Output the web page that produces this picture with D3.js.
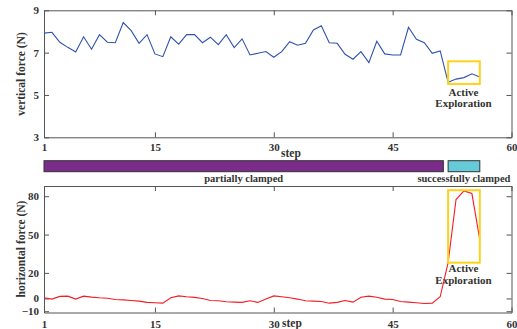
<!DOCTYPE html>
<html>
<head>
<meta charset="utf-8">
<script src="https://cdn.jsdelivr.net/npm/d3@7"></script>
<style>
  html, body { margin: 0; padding: 0; background: #fff; }
  svg { display: block; }
  text { font-family: "Liberation Serif", "Times New Roman", serif; font-weight: bold; fill: #333; }
</style>
</head>
<body>
<svg id="chart" width="517" height="329"></svg>
<script>
// ---- data ----
const steps = [1,2,3,4,5,6,7,8,9,10,11,12,13,14,15,16,17,18,19,20,21,22,23,24,25,26,27,28,
               29,30,31,32,33,34,35,36,37,38,39,40,41,42,43,44,45,46,47,48,49,50,51,52,53,54,55,56];
const verticalForce = [7.92,7.96,7.49,7.25,7.03,7.75,7.16,7.85,7.49,7.47,
                       8.42,8.04,7.44,7.85,6.94,6.81,7.75,7.40,7.85,7.85,
                       7.47,7.73,7.38,7.85,7.24,7.65,6.89,6.97,7.05,6.78,
                       7.05,7.52,7.35,7.44,8.07,8.27,7.47,7.44,6.92,6.69,
                       7.05,6.53,7.54,6.94,6.89,6.89,8.20,7.63,7.47,6.97,
                       7.08,5.60,5.75,5.82,6.00,5.85];
const horizontalForce = [0.5,-0.5,1.6,1.8,-0.5,1.8,1.0,0.5,0.2,-0.8,
                         -1.1,-1.6,-2.1,-3.1,-3.4,-3.7,0.5,2.0,1.3,0.8,
                         0,-1.6,-1.8,-2.6,-2.9,-3.1,-1.8,-3.1,-0.5,2.0,
                         1.3,0.5,-0.5,-1.8,-2.1,-2.4,-3.7,-3.1,-1.6,-2.9,
                         1.0,1.8,1.0,-0.5,-0.8,-2.4,-2.9,-3.4,-3.9,-3.7,
                         1.3,28,77.4,84.1,82.1,46.1];
const xTicks = [1,15,30,45,60];
const xDomain = [1,60];
const vTicks = [3,5,7,9];
const vDomain = [3,9];
const hTicks = [-10,0,20,50,80];
const hDomain = [-11,88];
const phaseLabels = ["partially clamped","successfully clamped"];
const phaseStart = [1,52];
const phaseEnd = [51.4,56];
const phaseColors = ["#7b2c8a","#66cbd9"];
const boxStep = [52,56];
const boxVertical = [5.52,6.59];
const boxHorizontal = [28,84.7];
const boxLabel = ["Active","Exploration"];

// ---- layout ----
const svg = d3.select("#chart");
const x = d3.scaleLinear().domain(xDomain).range([44,511.5]);
const yTop = d3.scaleLinear().domain(vDomain).range([137.3,10.3]);
const yBot = d3.scaleLinear().domain(hDomain).range([312.5,186]);
const axisColor = "#555";
const tick = 5;

function drawFrame(y, yTickVals, labelPad) {
  const [yb, yt] = y.range();
  const g = svg.append("g");
  g.append("g").attr("transform", `translate(0,${yb})`)
    .call(d3.axisBottom(x).tickValues(xTicks).tickFormat(d3.format("d")).tickSizeInner(-tick).tickSizeOuter(0).tickPadding(labelPad));
  g.append("g").attr("transform", `translate(0,${yt})`)
    .call(d3.axisTop(x).tickValues(xTicks).tickFormat("").tickSizeInner(-tick).tickSizeOuter(0));
  g.append("g").attr("transform", `translate(${x.range()[0]},0)`)
    .call(d3.axisLeft(y).tickValues(yTickVals).tickFormat(d3.format("d")).tickSizeInner(-tick).tickSizeOuter(0).tickPadding(5));
  g.append("g").attr("transform", `translate(${x.range()[1]},0)`)
    .call(d3.axisRight(y).tickValues(yTickVals).tickFormat("").tickSizeInner(-tick).tickSizeOuter(0));
  g.selectAll(".domain").attr("stroke", axisColor).attr("stroke-width", 1);
  g.selectAll(".tick line").attr("stroke", axisColor);
  g.selectAll("text").attr("font-family", '"Liberation Serif", serif').attr("font-weight", "bold")
    .attr("font-size", 11).attr("fill", "#333");
  return g;
}

drawFrame(yTop, vTicks, 6);
drawFrame(yBot, hTicks, 8);

// axis titles
svg.append("text").attr("transform", "translate(25,74) rotate(-90)")
  .attr("text-anchor", "middle").attr("font-size", 11.5).text("vertical force (N)");
svg.append("text").attr("transform", "translate(25,249) rotate(-90)")
  .attr("text-anchor", "middle").attr("font-size", 11.5).text("horizontal force (N)");
svg.append("text").attr("x", 281).attr("y", 156.5).attr("font-size", 11.5).text("step");
svg.append("text").attr("x", 282).attr("y", 326.5).attr("font-size", 11.5).text("step");

// phase bars
phaseLabels.forEach((lab, i) => {
  svg.append("rect")
    .attr("x", x(phaseStart[i])).attr("y", 160.7)
    .attr("width", x(phaseEnd[i]) - x(phaseStart[i])).attr("height", 11)
    .attr("fill", phaseColors[i]).attr("stroke", "#333").attr("stroke-width", 1);
  svg.append("text")
    .attr("x", (x(phaseStart[i]) + x(phaseEnd[i])) / 2).attr("y", 182)
    .attr("text-anchor", "middle").attr("font-size", 10.5).text(lab);
});

// active exploration labels
function boxText(cx, baselines) {
  boxLabel.forEach((t, i) => {
    svg.append("text").attr("x", cx).attr("y", baselines[i])
      .attr("text-anchor", "middle").attr("font-size", 11).text(t);
  });
}
boxText(x(54) - 0.5, [95.5, 106.5]);
boxText(x(54) - 0.5, [272, 283.5]);

// lines
const lineTop = d3.line().x((d, i) => x(steps[i])).y(d => yTop(d));
svg.append("path").datum(verticalForce).attr("d", lineTop)
  .attr("fill", "none").attr("stroke", "#2f52b0").attr("stroke-width", 1.1);
const lineBot = d3.line().x((d, i) => x(steps[i])).y(d => yBot(d));
svg.append("path").datum(horizontalForce).attr("d", lineBot)
  .attr("fill", "none").attr("stroke", "#f41c24").attr("stroke-width", 1.1);

// yellow boxes
svg.append("rect")
  .attr("x", x(boxStep[0])).attr("y", yTop(boxVertical[1]))
  .attr("width", x(boxStep[1]) - x(boxStep[0])).attr("height", yTop(boxVertical[0]) - yTop(boxVertical[1]))
  .attr("fill", "none").attr("stroke", "#ffd21a").attr("stroke-width", 2);
svg.append("rect")
  .attr("x", x(boxStep[0])).attr("y", yBot(boxHorizontal[1]))
  .attr("width", x(boxStep[1]) - x(boxStep[0])).attr("height", yBot(boxHorizontal[0]) - yBot(boxHorizontal[1]))
  .attr("fill", "none").attr("stroke", "#ffd21a").attr("stroke-width", 2);
</script>
</body>
</html>
